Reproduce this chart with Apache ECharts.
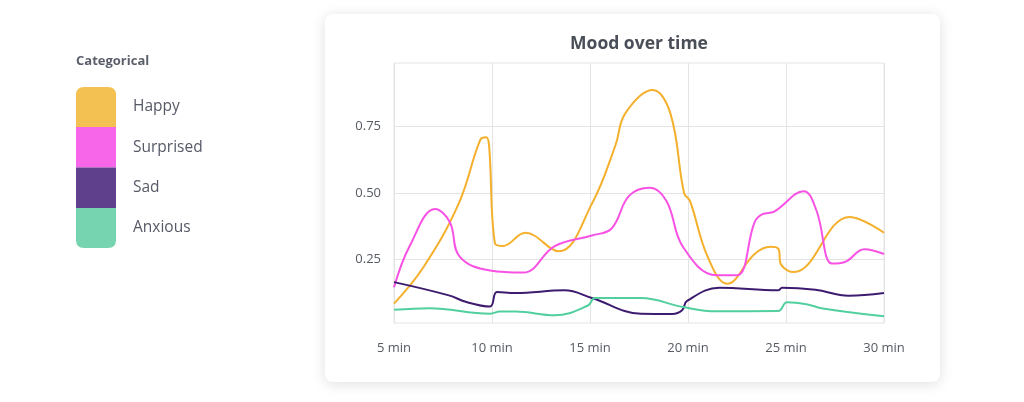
<!DOCTYPE html>
<html>
<head>
<meta charset="utf-8">
<title>Mood over time</title>
<script src="https://cdn.jsdelivr.net/npm/echarts@6/dist/echarts.min.js"></script>
<style>
  html, body { margin: 0; padding: 0; background: #fff; }
  #chart { width: 1024px; height: 402px; }
</style>
</head>
<body>
<div id="chart"></div>
<script>
// categories + colours
const moods = ["Happy", "Surprised", "Sad", "Anxious"];
const lineColors = ["#f4b02c", "#f852e4", "#3d1c70", "#52cf9f"];
const legendColors = ["#f3c152", "#f766e8", "#5e408c", "#77d4b0"];

// [minute, value]
const happy = [[5, 0.083], [6.5, 0.22], [8.3, 0.46], [9.4, 0.70], [9.7, 0.71], [9.85, 0.68], [10.15, 0.31],
  [10.55, 0.30], [11.7, 0.35], [13.4, 0.28], [15.1, 0.46], [16.3, 0.68], [16.8, 0.80], [18.2, 0.888],
  [19.1, 0.80], [19.8, 0.50], [20.1, 0.47], [21.0, 0.26], [22.0, 0.158], [23.4, 0.27], [24.2, 0.297],
  [24.6, 0.29], [24.75, 0.23], [25.4, 0.202], [28.25, 0.41], [30, 0.35]];
const surprised = [[5, 0.145], [5.8, 0.30], [7.1, 0.44], [7.85, 0.39], [8.35, 0.26], [9.9, 0.208], [11.6, 0.20],
  [13.2, 0.30], [15.1, 0.34], [16.1, 0.366], [17.0, 0.49], [18.05, 0.52], [18.9, 0.47], [19.75, 0.296],
  [21.45, 0.19], [22.5, 0.19], [23.4, 0.39], [23.8, 0.42], [24.4, 0.43], [25.9, 0.507], [26.55, 0.435],
  [27.35, 0.234], [28.0, 0.24], [29.0, 0.288], [30, 0.27]];
const sad = [[5, 0.164], [7.8, 0.114], [8.7, 0.089], [9.9, 0.072], [10.25, 0.127], [11.2, 0.123], [13.7, 0.133],
  [15.1, 0.104], [17.6, 0.045], [19.2, 0.044], [19.7, 0.058], [19.95, 0.093], [21.6, 0.143], [24.6, 0.133],
  [24.8, 0.143], [26.5, 0.135], [28.2, 0.113], [30, 0.123]];
const anxious = [[5, 0.06], [6.8, 0.066], [9.9, 0.045], [10.4, 0.053], [11.2, 0.053], [13.2, 0.039], [14.9, 0.076],
  [15.25, 0.104], [17.6, 0.104], [19.75, 0.07], [21.45, 0.054], [24.6, 0.055], [25.05, 0.088], [26.1, 0.08],
  [26.8, 0.066], [30, 0.035]];
const yTicks = [0.25, 0.5, 0.75];

const seriesData = [happy, surprised, sad, anxious];
const font = "Open Sans";

// legend swatch shapes: rounded top, plain middle, rounded bottom
const iconTop = "path://M0,8 Q0,0 8,0 L32,0 Q40,0 40,8 L40,40 L0,40 Z";
const iconBottom = "path://M0,0 L40,0 L40,32 Q40,40 32,40 L8,40 Q0,40 0,32 Z";

let chart = echarts.init(document.getElementById("chart"));

let option = {
  animation: false,
  textStyle: { fontFamily: font },
  title: [
    {
      text: "Mood over time",
      left: 639, top: 35, textAlign: "center", padding: 0,
      textStyle: { fontFamily: font, fontSize: 17.5, fontWeight: "bold", color: "#4a4e57" },
    },
    {
      text: "Categorical",
      left: 76, top: 55, padding: 0,
      textStyle: { fontFamily: font, fontSize: 13, fontWeight: "bold", color: "#5b5f6a" },
    },
  ],
  graphic: [
    {
      // white card behind the plot
      type: "rect", z: -10, left: 325, top: 14,
      shape: { width: 615, height: 368, r: 8 },
      style: { fill: "#fff", shadowBlur: 14, shadowOffsetY: 2, shadowColor: "rgba(0,0,0,0.13)" },
    },
  ],
  legend: {
    orient: "vertical",
    left: 76, top: 87, padding: 0,
    itemWidth: 40, itemHeight: 40.5, itemGap: 0,
    selectedMode: false,
    itemStyle: { borderWidth: 0 },
    textStyle: { fontFamily: font, fontSize: 15.5, color: "#565a66", padding: [8, 0, 0, 12] },
    data: moods.map(function (m, i) {
      let icon = "rect";
      if (i === 0) icon = iconTop;
      if (i === moods.length - 1) icon = iconBottom;
      return { name: m, icon: icon, itemStyle: { color: legendColors[i], borderWidth: 0 } };
    }),
  },
  grid: {
    left: 394, right: 140, top: 63, bottom: 79,
    show: true, borderColor: "#e4e4e4", borderWidth: 1,
  },
  xAxis: {
    type: "value",
    min: 5, max: 30, interval: 5,
    axisLine: { show: false },
    axisTick: { show: false },
    axisLabel: {
      margin: 19, fontSize: 13, color: "#555a63", fontFamily: font,
      formatter: function (v) { return v + " min"; },
    },
    splitLine: { show: true, lineStyle: { color: "#e4e4e4", width: 1 } },
  },
  yAxis: {
    type: "value",
    min: 0.01, max: 0.99,
    axisLine: { show: false },
    axisTick: { show: false, customValues: yTicks },
    axisLabel: {
      customValues: yTicks,
      margin: 13, fontSize: 13, color: "#555a63", fontFamily: font,
      formatter: function (v) { return v.toFixed(2); },
    },
    splitLine: { show: true, lineStyle: { color: "#e4e4e4", width: 1 } },
  },
  series: moods.map(function (m, i) {
    return {
      name: m,
      type: "line",
      data: seriesData[i],
      smooth: 0.4,
      showSymbol: false,
      color: lineColors[i],
      lineStyle: { width: 2, color: lineColors[i] },
    };
  }),
};

chart.setOption(option);
</script>
</body>
</html>
